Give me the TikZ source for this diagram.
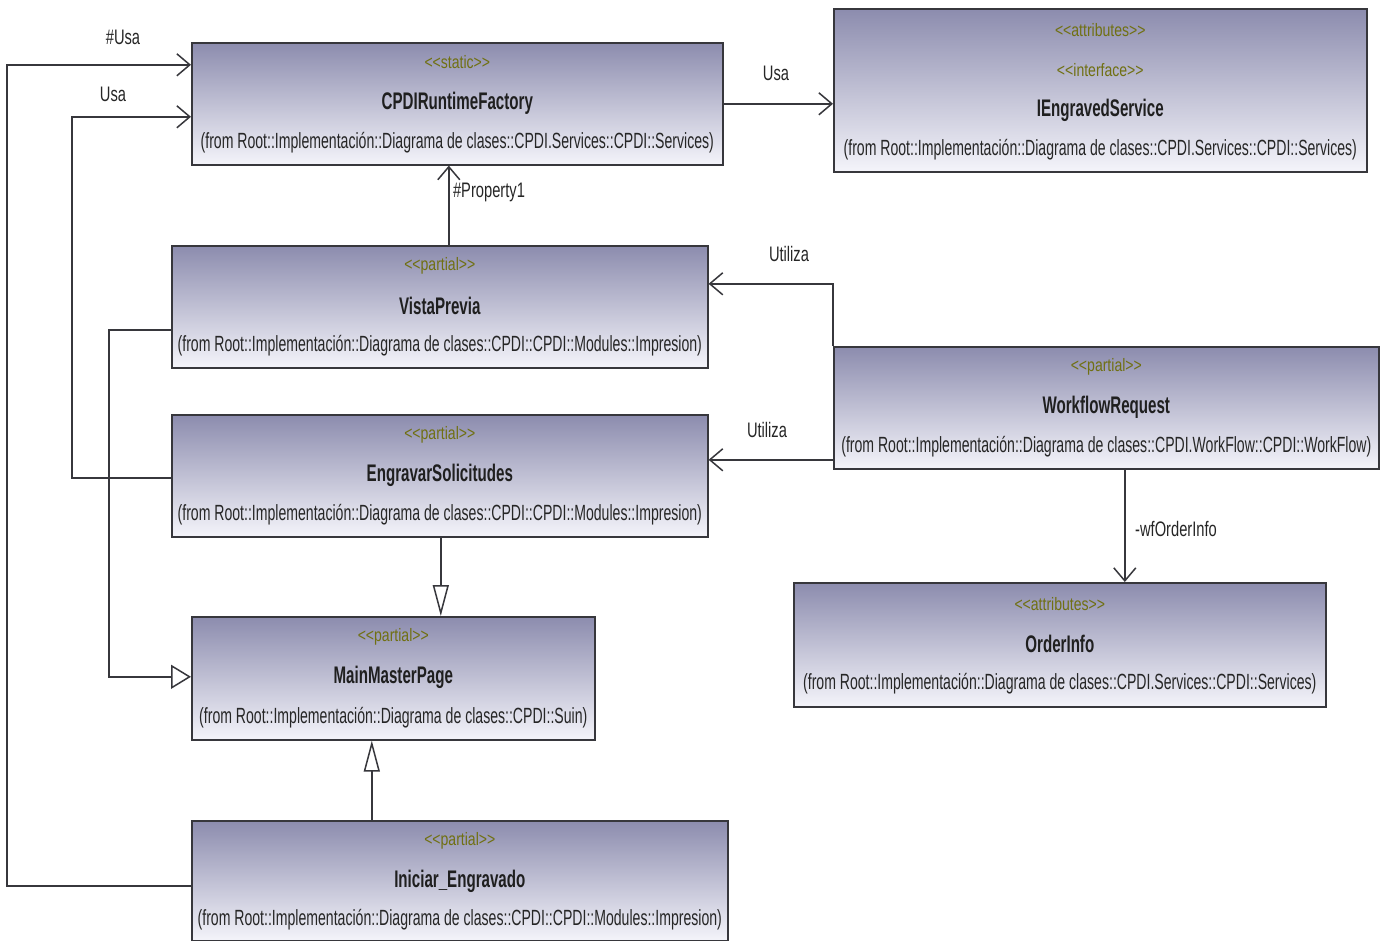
\documentclass[tikz,border=0pt]{standalone}
\usepackage{fontspec}
\newfontfamily\umlfont{Liberation Sans}[FakeStretch=0.64]
\newfontfamily\umlbold{Liberation Sans}[FakeStretch=0.63]
\newfontfamily\umlst{Liberation Sans}[FakeStretch=0.78]
\newfontfamily\umllbl{Liberation Sans}[FakeStretch=0.70]
\usetikzlibrary{arrows.meta,calc}
\definecolor{boxtop}{RGB}{140,140,174}
\definecolor{boxbot}{RGB}{244,244,250}
\definecolor{stcol}{RGB}{112,112,18}
\definecolor{edgecol}{RGB}{55,55,60}
\tikzset{
  cls/.style={draw=edgecol, line width=1.6pt, top color=boxtop, bottom color=boxbot,
              anchor=north west, inner sep=0pt},
  st/.style={font=\umlst\fontsize{18pt}{20pt}\selectfont, text=stcol, inner sep=0pt},
  nm/.style={font=\umlbold\bfseries\fontsize{24pt}{26pt}\selectfont, text=black!88, inner sep=0pt},
  fr/.style={font=\umlfont\fontsize{22pt}{24pt}\selectfont, text=black!85, inner sep=0pt},
  lbl/.style={font=\umllbl\fontsize{21pt}{23pt}\selectfont, text=black!85, inner sep=0pt},
  conn/.style={draw=edgecol, line width=1.5pt},
  dep/.style={conn, -{Straight Barb[length=13pt,width=22pt]}},
  gen/.style={conn, -{Triangle[length=20pt,width=24pt,fill=white]}},
  genv/.style={conn, -{Triangle[length=31pt,width=16pt,fill=white]}}
}
\begin{document}
\begin{tikzpicture}[x=1pt,y=-1pt]
\fill[white] (0,0) rectangle (1380,941);
\useasboundingbox (0,0) rectangle (1380,941);

% ---- classes ----
\node[cls, minimum width=531pt, minimum height=122pt] (cpdi) at (191,42) {};
\node[st] (cpdi-s) at ($(cpdi.north)+(0,20)$) {<<static>>};
\node[nm] (cpdi-n) at ($(cpdi.north)+(0,61)$) {CPDIRuntimeFactory};
\node[fr] (cpdi-f) at ($(cpdi.north)+(0,101)$) {(from Root::Implementación::Diagrama de clases::CPDI.Services::CPDI::Services)};

\node[cls, minimum width=533pt, minimum height=163pt] (ieng) at (833,8) {};
\node[st] (ieng-s1) at ($(ieng.north)+(0,22)$) {<<attributes>>};
\node[st] (ieng-s2) at ($(ieng.north)+(0,62)$) {<<interface>>};
\node[nm] (ieng-n) at ($(ieng.north)+(0,102)$) {IEngravedService};
\node[fr] (ieng-f) at ($(ieng.north)+(0,142)$) {(from Root::Implementación::Diagrama de clases::CPDI.Services::CPDI::Services)};

\node[cls, minimum width=536pt, minimum height=122pt] (vp) at (171,245) {};
\node[st] (vp-s) at ($(vp.north)+(0,21)$) {<<partial>>};
\node[nm] (vp-n) at ($(vp.north)+(0,61)$) {VistaPrevia};
\node[fr] (vp-f) at ($(vp.north)+(0,101)$) {(from Root::Implementación::Diagrama de clases::CPDI::CPDI::Modules::Impresion)};

\node[cls, minimum width=536pt, minimum height=122pt] (eng) at (171,414) {};
\node[st] (eng-s) at ($(eng.north)+(0,21)$) {<<partial>>};
\node[nm] (eng-n) at ($(eng.north)+(0,61)$) {EngravarSolicitudes};
\node[fr] (eng-f) at ($(eng.north)+(0,101)$) {(from Root::Implementación::Diagrama de clases::CPDI::CPDI::Modules::Impresion)};

\node[cls, minimum width=545pt, minimum height=122pt] (wf) at (833,346) {};
\node[st] (wf-s) at ($(wf.north)+(0,21)$) {<<partial>>};
\node[nm] (wf-n) at ($(wf.north)+(0,61)$) {WorkflowRequest};
\node[fr] (wf-f) at ($(wf.north)+(0,101)$) {(from Root::Implementación::Diagrama de clases::CPDI.WorkFlow::CPDI::WorkFlow)};

\node[cls, minimum width=532pt, minimum height=124pt] (oi) at (793,582) {};
\node[st] (oi-s) at ($(oi.north)+(0,22)$) {<<attributes>>};
\node[nm] (oi-n) at ($(oi.north)+(0,62)$) {OrderInfo};
\node[fr] (oi-f) at ($(oi.north)+(0,102)$) {(from Root::Implementación::Diagrama de clases::CPDI.Services::CPDI::Services)};

\node[cls, minimum width=403pt, minimum height=123pt] (mmp) at (191,616) {};
\node[st] (mmp-s) at ($(mmp.north)+(0,21)$) {<<partial>>};
\node[nm] (mmp-n) at ($(mmp.north)+(0,61)$) {MainMasterPage};
\node[fr] (mmp-f) at ($(mmp.north)+(0,102)$) {(from Root::Implementación::Diagrama de clases::CPDI::Suin)};

\node[cls, minimum width=536pt, minimum height=120pt] (ini) at (191,820) {};
\node[st] (ini-s) at ($(ini.north)+(0,21)$) {<<partial>>};
\node[nm] (ini-n) at ($(ini.north)+(0,61)$) {Iniciar\_Engravado};
\node[fr] (ini-f) at ($(ini.north)+(0,100)$) {(from Root::Implementación::Diagrama de clases::CPDI::CPDI::Modules::Impresion)};

% ---- routing rails on the left ----
\coordinate (railA) at (7,500);
\coordinate (railB) at (72,300);
\coordinate (railC) at (109,500);

% ---- dependencies ----
\draw[dep] ([yshift=-5pt]ini.west) -| (railA) |- ([yshift=39pt]cpdi.west);
\draw[dep] ([yshift=-2pt]eng.west) -| (railB) |- ([yshift=-13pt]cpdi.west);
\draw[dep] (cpdi.east) -- (cpdi.east -| ieng.west);
\coordinate (vpup) at ([xshift=9pt]vp.north);
\draw[dep] (vpup) -- (vpup |- cpdi.south);
\draw[dep] (wf.north west) |- ([yshift=23pt]vp.east);
\coordinate (engin) at ([yshift=16pt]eng.east);
\draw[dep] (engin -| wf.west) -- (engin);
\coordinate (wfdown) at ([xshift=18.5pt]wf.south);
\draw[dep] (wfdown) -- (wfdown |- oi.north);

% ---- generalizations ----
\draw[gen] ([yshift=-23pt]vp.west) -| (railC) |- ([yshift=1.5pt]mmp.west);
\coordinate (engdown) at ([xshift=1pt]eng.south);
\draw[genv] (engdown) -- (engdown |- mmp.north);
\coordinate (iniup) at ([xshift=-88pt]ini.north);
\draw[genv] (iniup) -- (iniup |- mmp.south);

% ---- connector labels ----
\node[lbl] (l-husa) at (123,37) {\#Usa};
\node[lbl] (l-usa1) at (113,94) {Usa};
\node[lbl] (l-usa2) at (776,73) {Usa};
\node[lbl] (l-prop) at (489,192) {\#Property1};
\node[lbl] (l-util1) at (789,254) {Utiliza};
\node[lbl] (l-util2) at (767,430) {Utiliza};
\node[lbl] (l-wfo) at (1176,529) {-wfOrderInfo};
\end{tikzpicture}
\end{document}
